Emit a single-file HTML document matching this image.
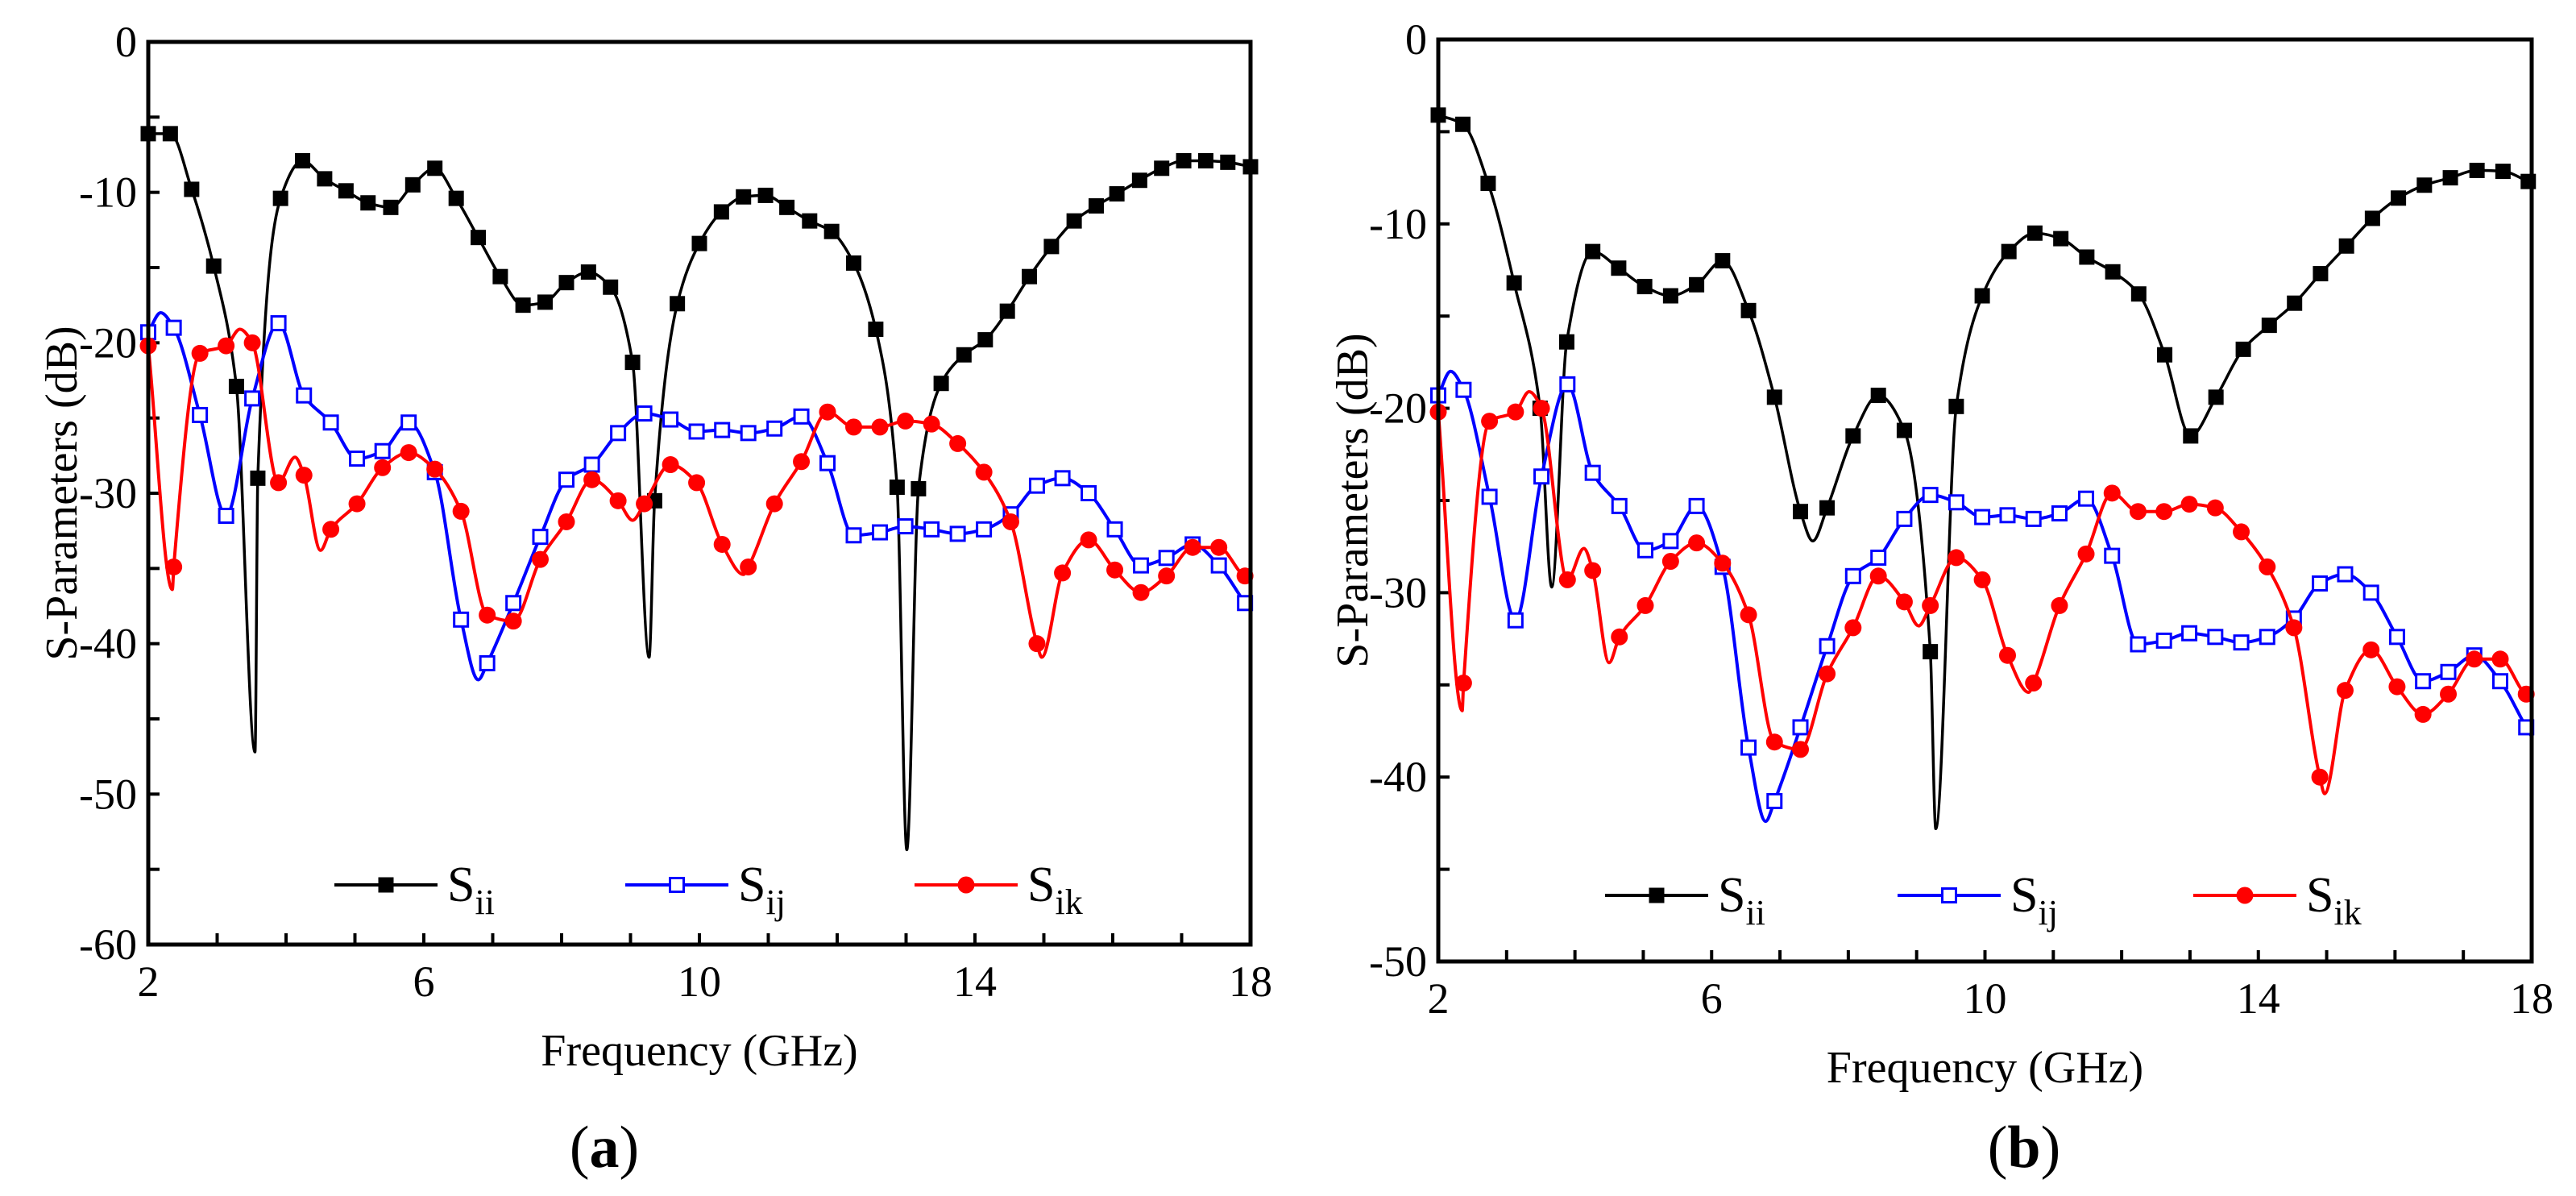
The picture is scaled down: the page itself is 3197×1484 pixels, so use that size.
<!DOCTYPE html>
<html><head><meta charset="utf-8">
<style>
html,body{margin:0;padding:0;background:#fff;}
svg{display:block;font-family:"Liberation Serif","Times New Roman",serif;}
</style></head>
<body>
<svg id="fig" width="3197" height="1484" viewBox="0 0 3197 1484" xmlns="http://www.w3.org/2000/svg"></svg>
<script>
// ---- shared data (both panels) ----
const xTicks = [2, 6, 10, 14, 18];
const yTicksA = [0, -10, -20, -30, -40, -50, -60];
const yTicksB = [0, -10, -20, -30, -40, -50];

// Panel (a) S_ii
const siiAFreq = [2.0,2.32,2.63,2.95,3.28,3.59,3.92,4.24,4.56,4.87,5.19,5.52,5.84,6.16,6.47,6.79,7.11,7.44,7.76,8.07,8.39,8.71,9.03,9.35,9.68,10.0,10.32,10.64,10.96,11.27,11.6,11.92,12.24,12.56,12.87,13.18,13.51,13.84,14.15,14.47,14.79,15.11,15.44,15.76,16.06,16.39,16.71,17.03,17.35,17.67,18.0];
const siiAVal = [-6.1,-6.1,-9.8,-14.9,-22.9,-29,-10.4,-7.9,-9.1,-9.9,-10.7,-11,-9.5,-8.4,-10.4,-13,-15.6,-17.5,-17.3,-16,-15.3,-16.3,-21.3,-30.5,-17.4,-13.4,-11.3,-10.3,-10.2,-11,-11.9,-12.6,-14.7,-19.1,-29.6,-29.7,-22.7,-20.8,-19.8,-17.9,-15.6,-13.6,-11.9,-10.9,-10.1,-9.2,-8.4,-7.9,-7.9,-8.0,-8.3];
const siiAExtF = [3.55, 9.27, 13.01];
const siiAExtV = [-47.2, -40.9, -53.7];

// Panel (b) S_ii
const siiBFreq = [2.0,2.36,2.73,3.11,3.49,3.88,4.26,4.64,5.02,5.40,5.78,6.16,6.54,6.92,7.30,7.69,8.07,8.44,8.82,9.20,9.58,9.96,10.35,10.73,11.11,11.49,11.87,12.25,12.63,13.01,13.38,13.78,14.16,14.53,14.91,15.29,15.67,16.05,16.43,16.81,17.20,17.58,17.95];
const siiBVal = [-4.1,-4.6,-7.8,-13.2,-20.0,-16.4,-11.5,-12.4,-13.4,-13.9,-13.3,-12.0,-14.7,-19.4,-25.6,-25.4,-21.5,-19.3,-21.2,-33.2,-19.9,-13.9,-11.5,-10.5,-10.8,-11.8,-12.6,-13.8,-17.1,-21.5,-19.4,-16.8,-15.5,-14.3,-12.7,-11.2,-9.7,-8.6,-7.9,-7.5,-7.1,-7.15,-7.7];
const siiBExtF = [3.66, 7.48, 9.28];
const siiBExtV = [-29.7, -27.2, -42.8];

// S_ij (same in both panels)
const sijFreq = [2.0,2.37,2.75,3.13,3.51,3.89,4.26,4.65,5.03,5.4,5.78,6.16,6.54,6.92,7.3,7.69,8.07,8.44,8.82,9.2,9.58,9.96,10.33,10.71,11.09,11.48,11.86,12.24,12.62,12.99,13.37,13.75,14.13,14.52,14.9,15.27,15.65,16.03,16.41,16.78,17.16,17.54,17.92];
const sijVal = [-19.3,-19,-24.8,-31.5,-23.7,-18.7,-23.5,-25.3,-27.7,-27.2,-25.3,-28.6,-38.4,-41.3,-37.3,-32.9,-29.1,-28.1,-26,-24.7,-25.1,-25.9,-25.8,-26,-25.7,-24.9,-28,-32.8,-32.6,-32.2,-32.4,-32.7,-32.4,-31.4,-29.5,-29,-30,-32.4,-34.8,-34.3,-33.4,-34.8,-37.3];
const sijExtF = [2.18, 6.79, 18.0];
const sijExtV = [-18.0, -42.4, -37.8];

// S_ik (same in both panels)
const sikFreq = [2.0,2.37,2.75,3.13,3.51,3.89,4.26,4.65,5.03,5.4,5.78,6.16,6.54,6.92,7.3,7.69,8.07,8.44,8.82,9.2,9.58,9.96,10.33,10.71,11.09,11.48,11.86,12.24,12.62,12.99,13.37,13.75,14.13,14.52,14.9,15.27,15.65,16.03,16.41,16.78,17.16,17.54,17.92];
const sikVal = [-20.2,-34.9,-20.7,-20.2,-20,-29.3,-28.8,-32.4,-30.7,-28.3,-27.3,-28.4,-31.2,-38.1,-38.5,-34.4,-31.9,-29.1,-30.5,-30.7,-28.1,-29.3,-33.4,-34.9,-30.7,-27.9,-24.6,-25.6,-25.6,-25.2,-25.4,-26.7,-28.6,-31.9,-40,-35.3,-33.1,-35.1,-36.6,-35.5,-33.6,-33.6,-35.5];
const sikExtF = [2.35, 3.33, 4.13, 4.5, 9.03, 10.64, 14.97, 18.0];
const sikExtV = [-36.4, -19.1, -27.6, -33.8, -31.8, -35.4, -40.9, -35.6];

const NS = "http://www.w3.org/2000/svg";
const svg = document.getElementById('fig');
function mk(tag, attrs, parent){ const e=document.createElementNS(NS,tag); for(const k in attrs) e.setAttribute(k,attrs[k]); (parent||svg).appendChild(e); return e; }

function merge(f1,v1,f2,v2){
  const pts=[]; for(let i=0;i<f1.length;i++) pts.push([f1[i],v1[i]]);
  for(let i=0;i<f2.length;i++) pts.push([f2[i],v2[i]]);
  pts.sort((a,b)=>a[0]-b[0]); return pts;
}
// monotone-x cubic path
function monoPath(p){
  const n=p.length; if(n<2) return '';
  const dx=[],s=[]; for(let i=0;i<n-1;i++){dx[i]=p[i+1][0]-p[i][0]; s[i]=(p[i+1][1]-p[i][1])/dx[i];}
  const m=[s[0]];
  for(let i=1;i<n-1;i++){ if(s[i-1]*s[i]<=0) m[i]=0; else { const w1=2*dx[i]+dx[i-1], w2=dx[i]+2*dx[i-1]; m[i]=(w1+w2)/(w1/s[i-1]+w2/s[i]); } }
  m[n-1]=s[n-2];
  let d='M'+p[0][0].toFixed(1)+','+p[0][1].toFixed(1);
  for(let i=0;i<n-1;i++){
    const h=dx[i]/3;
    d+=' C'+(p[i][0]+h).toFixed(1)+','+(p[i][1]+m[i]*h).toFixed(1)+' '+(p[i+1][0]-h).toFixed(1)+','+(p[i+1][1]-m[i+1]*h).toFixed(1)+' '+p[i+1][0].toFixed(1)+','+p[i+1][1].toFixed(1);
  }
  return d;
}
function marker(g,type,x,y,color){
  let e;
  if(type==='sq'){ e=mk('rect',{x:x-9.5,y:y-9.5,width:19,height:19,fill:'#000'},g); }
  else if(type==='osq'){ e=mk('rect',{x:x-8.5,y:y-8.5,width:17,height:17,fill:'#fff',stroke:color,'stroke-width':3},g); }
  else { e=mk('circle',{cx:x,cy:y,r:10.5,fill:color},g); }
  return e;
}

function panel(cfg){
  const g=mk('g',{});
  
  
  const X=f=>cfg.x0+(f-2)/16*(cfg.x1-cfg.x0);
  const Y=v=>cfg.y0+(v/cfg.ymin)*(cfg.y1-cfg.y0);
  for(let f=3; f<18; f++){ const t=mk('line',{x1:X(f),x2:X(f),y1:cfg.y1,y2:cfg.y1-14,stroke:'#000','stroke-width':4},g);
      }
  for(let v=-5; v>cfg.ymin; v-=5){ const t=mk('line',{x1:cfg.x0,x2:cfg.x0+14,y1:Y(v),y2:Y(v),stroke:'#000','stroke-width':4},g);
      }
  xTicks.forEach(f=>{ const t=mk('text',{x:X(f),y:cfg.y1+64,'font-size':54,'text-anchor':'middle'},g); t.textContent=f;
      });
  cfg.yTicks.forEach(v=>{ const t=mk('text',{x:cfg.x0-14,y:Y(v)+18,'font-size':54,'text-anchor':'end'},g); t.textContent=v;
      });
  const series=[
    {name:'sii-series',pts:merge(cfg.siiF,cfg.siiV,cfg.siiEF,cfg.siiEV),mf:cfg.siiF,mv:cfg.siiV,color:'#000',type:'sq',w:3.5},
    {name:'sij-series',pts:merge(sijFreq,sijVal,sijExtF,sijExtV),mf:sijFreq,mv:sijVal,color:'#0000ff',type:'osq',w:4},
    {name:'sik-series',pts:merge(sikFreq,sikVal,sikExtF,sikExtV),mf:sikFreq,mv:sikVal,color:'#ff0000',type:'ci',w:4}
  ];
  series.forEach(s=>{
    const sg=mk('g',{},g);
    
    
    const p=mk('path',{d:monoPath(s.pts.map(q=>[X(q[0]),Y(q[1])])),fill:'none',stroke:s.color,'stroke-width':s.w,'stroke-linejoin':'round'},sg);
    
    
    for(let i=0;i<s.mf.length;i++){ const m=marker(sg,s.type,X(s.mf[i]),Y(s.mv[i]),s.color);
      
       }
  });
  const fr=mk('rect',{x:cfg.x0,y:cfg.y0,width:cfg.x1-cfg.x0,height:cfg.y1-cfg.y0,fill:'none',stroke:'#000','stroke-width':5},g);
   
  const lg=mk('g',{},g);
   
  const lab=[['ii','#000','sq'],['ij','#0000ff','osq'],['ik','#ff0000','ci']];
  lab.forEach((L,i)=>{
    const lx=cfg.legX[i], ly=cfg.legY;
    const eg=mk('g',{},lg);
     
    mk('line',{x1:lx,x2:lx+128,y1:ly,y2:ly,stroke:L[1],'stroke-width':4},eg);
    marker(eg,L[2],lx+64,ly,L[1]);
    const t=mk('text',{x:lx+140,y:ly+20,'font-size':62},eg);
    t.innerHTML='S<tspan font-size="44" dy="16">'+L[0]+'</tspan>';
  });
  const xt=mk('text',{x:(cfg.x0+cfg.x1)/2,y:cfg.y1+150,'font-size':56,'text-anchor':'middle'},g);
  xt.textContent='Frequency (GHz)';
   
  const yc=(cfg.y0+cfg.y1)/2;
  const yt=mk('text',{x:cfg.yTitleX,y:yc,'font-size':56,'text-anchor':'middle',transform:'rotate(-90 '+cfg.yTitleX+' '+yc+')'},g);
  yt.textContent='S-Parameters (dB)';
   
  const cap=mk('text',{x:cfg.capX,y:1448,'font-size':74,'text-anchor':'middle'},g);
  cap.innerHTML='(<tspan font-weight="bold">'+cfg.cap+'</tspan>)';
   
}

panel({name:'panel-a',x0:184,x1:1552,y0:52,y1:1172,ymin:-60,yTicks:yTicksA,
  siiF:siiAFreq,siiV:siiAVal,siiEF:siiAExtF,siiEV:siiAExtV,
  legX:[415,776,1135],legY:1098,yTitleX:95,capX:750,cap:'a'});
panel({name:'panel-b',x0:1785,x1:3142,y0:49,y1:1193,ymin:-50,yTicks:yTicksB,
  siiF:siiBFreq,siiV:siiBVal,siiEF:siiBExtF,siiEV:siiBExtV,
  legX:[1992,2355,2722],legY:1111,yTitleX:1697,capX:2512,cap:'b'});
</script>
</body></html>
